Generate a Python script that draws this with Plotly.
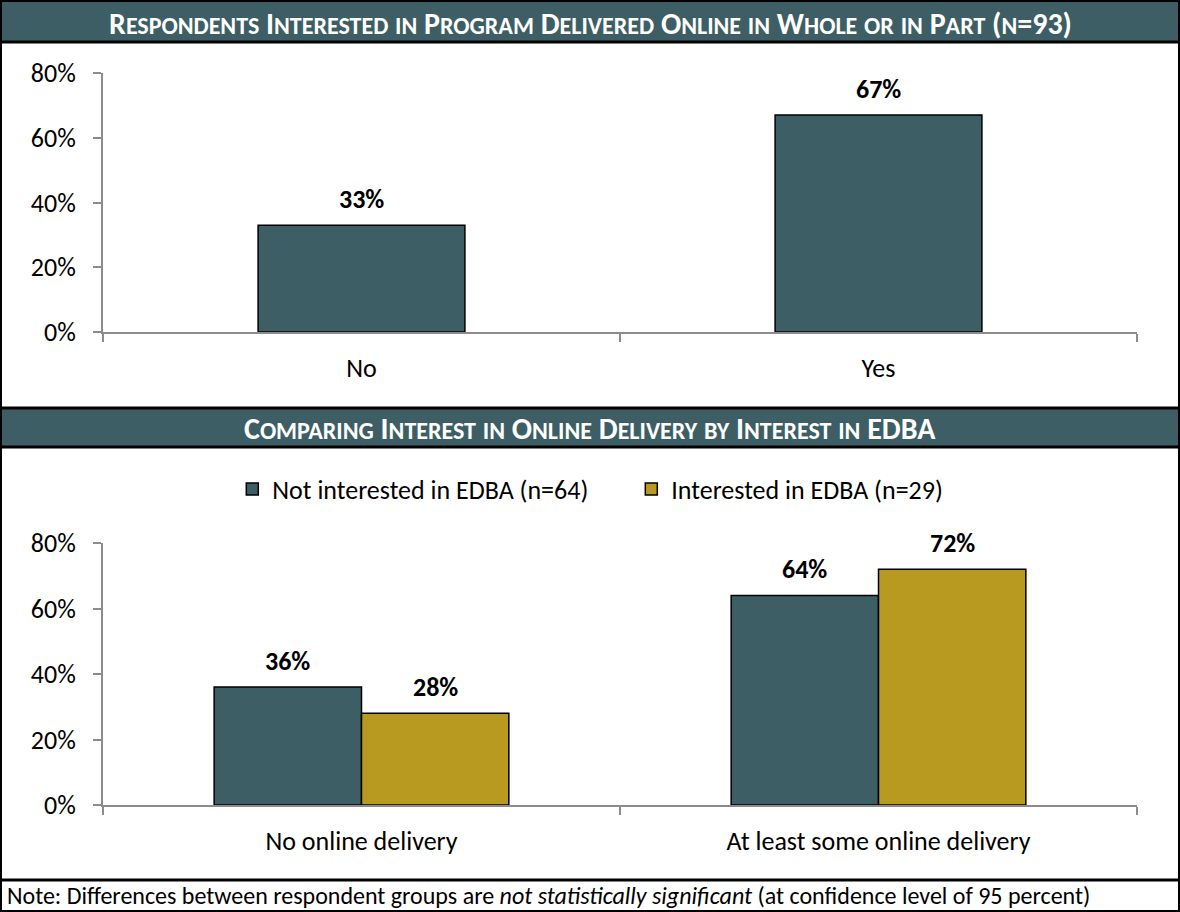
import plotly.graph_objects as go

# ---- data ----
top_cats = ["No", "Yes"]
top_vals = [33, 67]

bottom_cats = ["No online delivery", "At least some online delivery"]
not_interested = [36, 64]
interested = [28, 72]
series_names = ["Not interested in EDBA (n=64)", "Interested in EDBA (n=29)"]

y_ticks = [0, 20, 40, 60, 80]
y_tick_labels = ["0%", "20%", "40%", "60%", "80%"]

title_top = "Respondents Interested in Program Delivered Online in Whole or in Part (n=93)"
title_bottom = "Comparing Interest in Online Delivery by Interest in EDBA"
note = ("Note: Differences between respondent groups are <i>not statistically significant</i> "
        "(at confidence level of 95 percent)")

TEAL = "#3c5e64"
GOLD = "#b89a20"
AXIS = "#8c8c8c"
FONT = "Carlito, Calibri, Lato, sans-serif"
W, H = 1180, 912


def py(px_):
    # pixel row -> paper y
    return 1 - px_ / H


def small_caps(s, big=30, small=24):
    out, run, run_small = [], "", None
    for ch in s:
        is_small = ch.islower()
        if run_small is None or is_small == run_small:
            run += ch
        else:
            out.append((run, run_small))
            run = ch
        run_small = is_small
    out.append((run, run_small))
    parts = []
    for txt, sm in out:
        if sm:
            parts.append('<span style="font-size:%dpx">%s</span>' % (small, txt.upper()))
        else:
            parts.append(txt)
    return "<b>" + "".join(parts) + "</b>"


fig = go.Figure()

fig.add_trace(go.Bar(x=top_cats, y=top_vals, width=0.4,
                     marker=dict(color=TEAL, line=dict(color="black", width=1.5)),
                     xaxis="x", yaxis="y", showlegend=False))
fig.add_trace(go.Bar(x=bottom_cats, y=not_interested, name=series_names[0],
                     marker=dict(color=TEAL, line=dict(color="black", width=1.5)),
                     xaxis="x2", yaxis="y2", offsetgroup="a"))
fig.add_trace(go.Bar(x=bottom_cats, y=interested, name=series_names[1],
                     marker=dict(color=GOLD, line=dict(color="black", width=1.5)),
                     xaxis="x2", yaxis="y2", offsetgroup="b"))

x_dom = [103 / W, 1137 / W]
tick_font = dict(family=FONT, size=26, color="black")
axis_common = dict(showline=True, linecolor=AXIS, linewidth=2, ticks="outside", ticklen=8,
                   tickcolor=AXIS, tickwidth=2, showgrid=False, zeroline=False,
                   automargin=False, tickfont=tick_font)
xa = dict(type="category", tickson="boundaries", ticklabelstandoff=12, **axis_common)
ya = dict(range=[0, 80], tickvals=y_ticks, ticktext=y_tick_labels,
          ticklabelstandoff=12, **axis_common)

fig.update_layout(
    width=W, height=H, margin=dict(l=0, r=0, t=0, b=0, pad=0, autoexpand=False),
    paper_bgcolor="white", plot_bgcolor="white",
    barmode="group", bargap=0.43,
    font=dict(family=FONT, color="black"),
    xaxis=dict(domain=x_dom, anchor="y", **xa),
    yaxis=dict(domain=[py(332), py(73)], anchor="x", **ya),
    xaxis2=dict(domain=x_dom, anchor="y2", **xa),
    yaxis2=dict(domain=[py(805), py(543)], anchor="x2", **ya),
    legend=dict(orientation="h", x=0.535, xanchor="center", y=py(489), yanchor="middle",
                font=dict(family=FONT, size=26, color="black"), entrywidth=354,
                bgcolor="rgba(0,0,0,0)"),
)

# data labels
label_font = dict(family=FONT, size=26, color="black")
for c, v in zip(top_cats, top_vals):
    fig.add_annotation(x=c, y=v, xref="x", yref="y", text="<b>%d%%</b>" % v,
                       showarrow=False, yshift=26, yanchor="middle", font=label_font)
half = (1 - 0.43) / 4
for i, (a, b) in enumerate(zip(not_interested, interested)):
    fig.add_annotation(x=i - half, y=a, xref="x2", yref="y2", text="<b>%d%%</b>" % a,
                       showarrow=False, yshift=26, yanchor="middle", font=label_font)
    fig.add_annotation(x=i + half, y=b, xref="x2", yref="y2", text="<b>%d%%</b>" % b,
                       showarrow=False, yshift=26, yanchor="middle", font=label_font)

# header bars and frame
hdr_line = dict(color="black", width=3)
fig.add_shape(type="rect", xref="paper", yref="paper", x0=0, x1=1, y0=py(42), y1=1,
              fillcolor=TEAL, line=hdr_line, layer="below")
fig.add_shape(type="rect", xref="paper", yref="paper", x0=0, x1=1, y0=py(447), y1=py(408),
              fillcolor=TEAL, line=hdr_line, layer="below")
fig.add_shape(type="line", xref="paper", yref="paper", x0=0, x1=1, y0=py(880), y1=py(880),
              line=hdr_line)
fig.add_shape(type="rect", xref="paper", yref="paper", x0=0, x1=1, y0=0, y1=1,
              line=dict(color="black", width=4), fillcolor="rgba(0,0,0,0)")

hdr_font = dict(family=FONT, size=30, color="white")
fig.add_annotation(x=0.5, y=py(23), xref="paper", yref="paper", text=small_caps(title_top),
                   showarrow=False, xanchor="center", yanchor="middle", font=hdr_font)
fig.add_annotation(x=0.5, y=py(428), xref="paper", yref="paper", text=small_caps(title_bottom),
                   showarrow=False, xanchor="center", yanchor="middle", font=hdr_font)
fig.add_annotation(x=5 / W, y=py(895), xref="paper", yref="paper", xanchor="left",
                   yanchor="middle", text=note, showarrow=False,
                   font=dict(family=FONT, size=24, color="black"))

fig.write_html("out.html", config={"displayModeBar": False},
               post_script="document.body.style.margin='0px';")
